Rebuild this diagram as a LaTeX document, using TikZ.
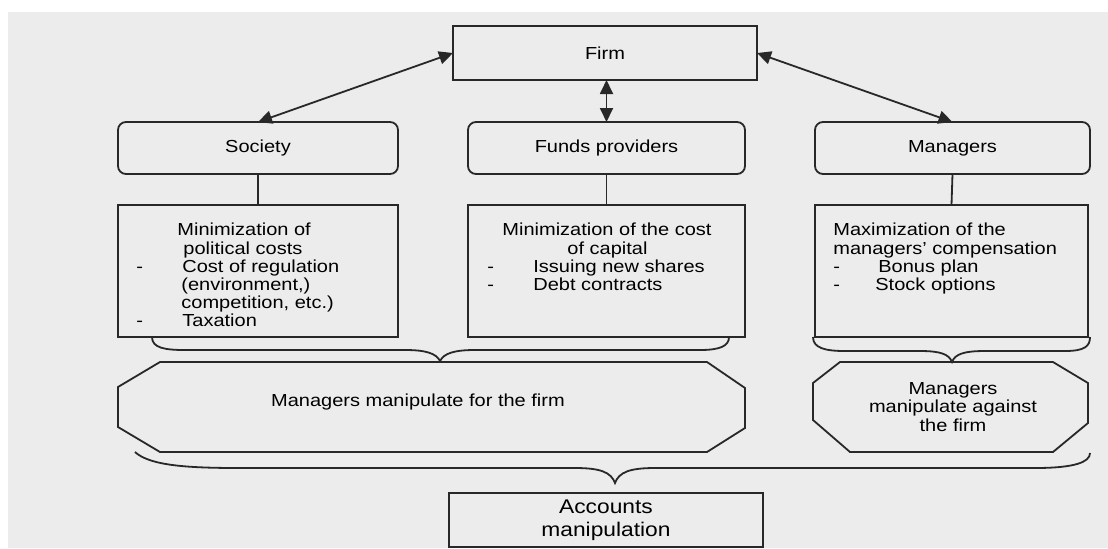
\documentclass[tikz,border=0pt]{standalone}
\usepackage{fontspec}
\newfontfamily\diagfont{Liberation Sans}[FakeStretch=1.15]
\usetikzlibrary{arrows.meta,positioning}
\definecolor{paper}{RGB}{236,236,236}
\definecolor{ink}{RGB}{40,40,40}
\tikzstyle{arrow} = [line width=0.9pt,{Triangle[length=7pt,width=6.5pt]}-{Triangle[length=7pt,width=6.5pt]},color=ink]
\tikzstyle{link} = [line width=0.9pt,color=ink]
\tikzstyle{plain} = [draw=ink,line width=0.9pt,fill=paper,inner sep=0pt,outer sep=0pt,font=\diagfont\fontsize{8.7}{9}\selectfont]
\tikzstyle{party} = [plain,rounded corners=4pt,minimum height=26pt]
\tikzstyle{goalbox} = [plain,minimum height=66pt]
\tikzstyle{goaltext} = [anchor=north west,inner sep=0pt,align=left,font=\diagfont\fontsize{8.7}{8}\selectfont]

\begin{document}
\begin{tikzpicture}[x=0.5pt,y=-0.5pt]
\useasboundingbox (0,0) rectangle (1108,548);
\fill[paper] (8,12) rectangle (1108,548);

% firm and the three parties
\node[plain,minimum width=152pt,minimum height=27pt] (firm) at (605,53) {Firm};
\node[party,minimum width=140pt] (society) at (258,148) {Society};
\node[party,minimum width=138.5pt] (funds) at (606.5,148) {Funds providers};
\node[party,minimum width=137.5pt] (managers) at (952.5,148) {Managers};

\draw[arrow] (firm.west) -- (society.north);
\draw[arrow] (funds.north |- firm.south) -- (funds.north);
\draw[arrow] (firm.east) -- (managers.north);

% what each party wants
\node[goalbox,minimum width=140pt] (socgoal) at (258,271) {};
\node[goalbox,minimum width=138.5pt] (fundgoal) at (606.5,271) {};
\node[goalbox,minimum width=136.5pt] (mangoal) at (951.5,271) {};

\draw[link] (society.south) -- (socgoal.north);
\draw[link] (funds.south) -- (fundgoal.north);
\draw[link] (managers.south) -- (mangoal.north);

\node[goaltext] (soctext) at ([xshift=9pt,yshift=-8.5pt]socgoal.north west)
  {\hspace*{20.5pt}Minimization of\\[1.5pt]
   \hspace*{23.5pt}political costs\\
   \makebox[23pt][l]{-}Cost of regulation\\
   \hspace*{22.5pt}(environment,)\\
   \hspace*{22.5pt}competition, etc.)\\
   \makebox[23pt][l]{-}Taxation};
\node[goaltext] (fundtext) at ([xshift=9.5pt,yshift=-8.5pt]fundgoal.north west)
  {\hspace*{7.5pt}Minimization of the cost\\[1.5pt]
   \hspace*{40pt}of capital\\
   \makebox[23pt][l]{-}Issuing new shares\\
   \makebox[23pt][l]{-}Debt contracts};
\node[goaltext] (mantext) at ([xshift=9pt,yshift=-8.5pt]mangoal.north west)
  {Maximization of the\\[1.5pt]
   managers’ compensation\\
   \makebox[22.5pt][l]{-}Bonus plan\\
   \makebox[21pt][l]{-}Stock options};

% braces
\draw[link] (152,337) .. controls (152,348) and (165,350) .. (185,350) -- (405,350)
  .. controls (425,350) and (436,353) .. (440,361)
  .. controls (444,353) and (455,350) .. (475,350) -- (700,350)
  .. controls (720,350) and (729,346) .. (729,337);
\draw[link] (813,337) .. controls (813,348) and (825,351) .. (845,351) -- (920,351)
  .. controls (940,351) and (949,354) .. (952,362)
  .. controls (955,354) and (964,351) .. (985,351) -- (1065,351)
  .. controls (1085,351) and (1090,346) .. (1090,337);
\draw[link] (135,452) .. controls (150,466) and (190,468) .. (240,468) -- (575,468)
  .. controls (600,468) and (611,472) .. (615,483)
  .. controls (619,472) and (630,468) .. (655,468) -- (1035,468)
  .. controls (1075,468) and (1090,462) .. (1090,453);

% who the manipulation serves
\draw[link] (160,362) -- (707,362) -- (745,388) -- (745,428) -- (707,452)
  -- (160,452) -- (118,427) -- (118,387) -- cycle;
\draw[link] (840,362) -- (1053,362) -- (1088,383) -- (1088,423) -- (1053,452)
  -- (850,452) -- (813,420) -- (813,383) -- cycle;
\node[font=\diagfont\fontsize{8.7}{9}\selectfont] (forfirm) at (418,402) {Managers manipulate for the firm};
\node[align=center,font=\diagfont\fontsize{8.7}{9.25}\selectfont] (against) at (953,407)
  {Managers\\manipulate against\\the firm};

\node[plain,minimum width=157pt,minimum height=27pt,align=center,font=\diagfont\fontsize{9.9}{11.5}\selectfont] (accounts) at (606,520) {Accounts\\manipulation};
\end{tikzpicture}
\end{document}
